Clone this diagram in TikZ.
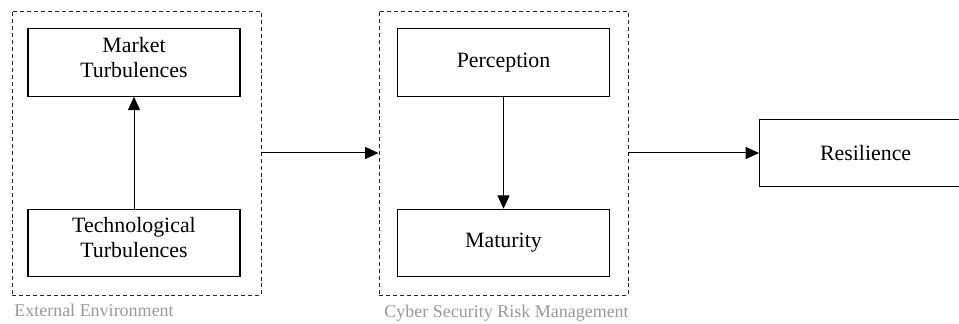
\documentclass[tikz,border=0pt]{standalone}
\usepackage{fontspec}
\setmainfont{Liberation Serif}
\usepackage{xcolor}
\usepackage{tikz}
\usetikzlibrary{arrows.meta, positioning}

\begin{document}
\begin{tikzpicture}[
    x=0.75pt, y=-0.75pt,
    node distance=84pt,
    factor/.style={rectangle, draw=black, line width=0.9pt, minimum width=159pt, minimum height=50.5pt, align=center, inner sep=0pt, font=\rmfamily\fontsize{16.4}{18.75}\selectfont},
    twoline/.style={text depth=8pt},
    group/.style={rectangle, draw=black!85, line width=0.7pt, dash pattern=on 3pt off 2.2pt, minimum width=186.75pt, minimum height=213pt},
    caption/.style={anchor=base west, inner sep=0pt, text=black!40, font=\rmfamily\fontsize{13.5}{16}\selectfont},
    arrow/.style={-{Triangle[length=10pt, width=9pt]}, line width=0.75pt}
]
\clip (0,0) rectangle (959,324);

% external environment
\node[group] (ext) at (136.5,153) {};
\node[factor, twoline] (market) at (134,62.5) {Market\\Turbulences};
\node[factor, twoline, below=of market] (tech) {Technological\\Turbulences};
\node[caption] (extlabel) at (14,316) {External Environment};

% cyber security risk management
\node[group] (cyber) at (503.5,153) {};
\node[factor] (perception) at (503.5,62.5) {Perception};
\node[factor, below=of perception] (maturity) {Maturity};
\node[caption] (cyberlabel) at (384,317) {Cyber Security Risk Management};

% outcome
\node[factor, anchor=west] (resilience) at (759,153) {Resilience};

\draw[arrow] (tech) -- (market);
\draw[arrow] (perception) -- (maturity);
\draw[arrow] (ext) -- (cyber);
\draw[arrow] (cyber) -- (resilience);

\end{tikzpicture}
\end{document}
